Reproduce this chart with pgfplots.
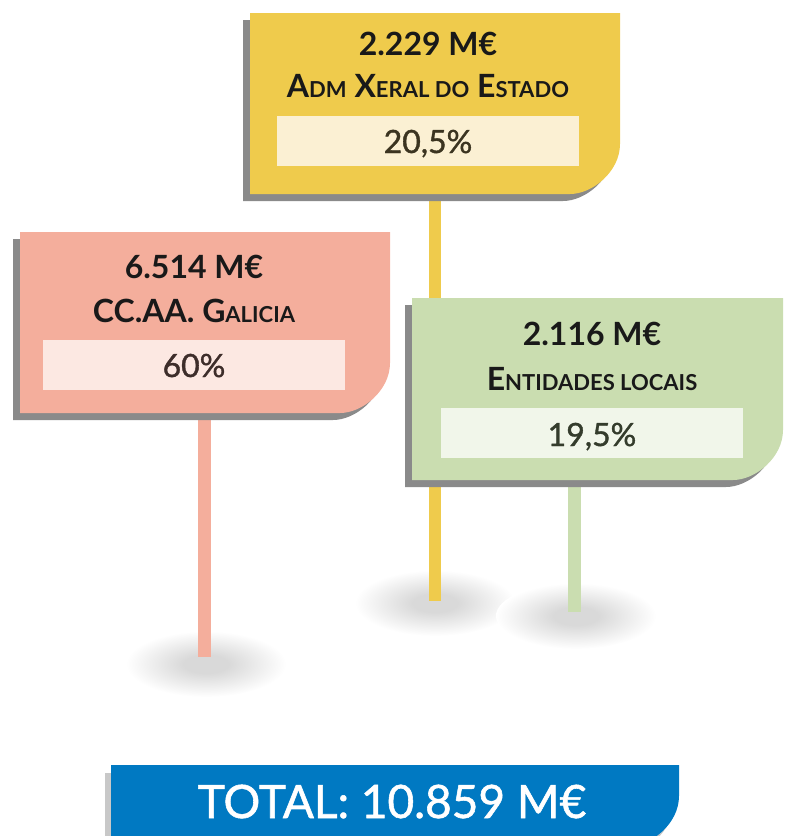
\documentclass[border=0pt]{standalone}
\usepackage{pgfplots}
\pgfplotsset{compat=1.18}
\usepackage{fontspec}
\setmainfont{Lato}
\newfontfamily\medfont{Lato}[FakeBold=1.2]
\definecolor{yel}{HTML}{EFCB4C}
\definecolor{yelL}{HTML}{FBF0D3}
\definecolor{pnk}{HTML}{F4AE9C}
\definecolor{pnkL}{HTML}{FCE8E2}
\definecolor{grn}{HTML}{CADDB0}
\definecolor{grnL}{HTML}{F1F6EA}
\definecolor{blu}{HTML}{0079C2}
\definecolor{shd}{HTML}{8A8A8A}
\definecolor{shdL}{HTML}{C8C8C8}
\definecolor{ell}{HTML}{D9D9D9}
\definecolor{pctY}{HTML}{3B3420}
\definecolor{pctP}{HTML}{3D2D2A}
\definecolor{pctG}{HTML}{343C2C}
\pgfdeclareradialshading{softshadow}{\pgfpoint{0bp}{0bp}}{color(0bp)=(ell); color(7bp)=(ell); color(25bp)=(white); color(50bp)=(white)}
% card path: x1 y1 x2 y2 with rounded bottom-right corner (r=50)
\newcommand\cardpath[8]{(#1,#2) -- (#3,#2) -- (#3,#5) .. controls (#3,#7) and (#8,#4) .. (#6,#4) -- (#1,#4) -- cycle}
\newcommand\sm[1]{{\fontsize{22}{23}\selectfont #1}}
\tikzset{ttl/.style={anchor=base, font=\fontsize{32}{33}\selectfont\bfseries, text=black!90},
         pct/.style={anchor=base, font=\fontsize{32}{33}\selectfont\medfont}}
\begin{document}
\begin{tikzpicture}
\begin{axis}[
  scale only axis, width=787pt, height=836pt,
  xmin=0, xmax=787, ymin=0, ymax=836, y dir=reverse,
  hide axis, clip=false]
% soft shadows under the posts
\shade[shading=softshadow] (axis cs:206,664) ellipse [x radius=80pt, y radius=33pt];
\shade[shading=softshadow] (axis cs:435,603) ellipse [x radius=80pt, y radius=33pt];
\shade[shading=softshadow] (axis cs:576,616) ellipse [x radius=80pt, y radius=33pt];
% posts (values: 6514, 2229, 2116 M EUR)
\addplot[pnk, line width=13pt, line cap=butt] coordinates {(204.5,420) (204.5,657)};
\addplot[yel, line width=12pt, line cap=butt] coordinates {(435,200) (435,601)};
\addplot[grn, line width=13pt, line cap=butt] coordinates {(574,487) (574,612)};
% yellow card
\fill[shd, xshift=-7pt, yshift=-7pt] \cardpath{250}{13}{620}{194}{144}{570}{171.6}{592.4};
\fill[yel] \cardpath{250}{13}{620}{194}{144}{570}{171.6}{592.4};
\fill[yelL] (axis cs:277,116) rectangle (axis cs:579,166);
\node[ttl] at (axis cs:428,55) {2.229 M€};
\node[ttl] at (axis cs:428,97) {A\sm{DM} X\sm{ERAL DO} E\sm{STADO}};
\node[pct, text=pctY] at (axis cs:428,153) {20,5\%};
% pink card
\fill[shd, xshift=-7pt, yshift=-7pt] \cardpath{20}{232}{390}{413}{363}{340}{390.6}{362.4};
\fill[pnk] \cardpath{20}{232}{390}{413}{363}{340}{390.6}{362.4};
\fill[pnkL] (axis cs:43,340) rectangle (axis cs:345,390);
\node[ttl] at (axis cs:194,278) {6.514 M€};
\node[ttl] at (axis cs:194,322) {CC.AA. G\sm{ALICIA}};
\node[pct, text=pctP] at (axis cs:194,377) {60\%};
% green card
\fill[shd, xshift=-7pt, yshift=-7pt] \cardpath{412}{298}{783}{480}{430}{733}{457.6}{755.4};
\fill[grn] \cardpath{412}{298}{783}{480}{430}{733}{457.6}{755.4};
\fill[grnL] (axis cs:441,408) rectangle (axis cs:743,458);
\node[ttl] at (axis cs:592,345) {2.116 M€};
\node[ttl] at (axis cs:592,390) {E\sm{NTIDADES LOCAIS}};
\node[pct, text=pctG] at (axis cs:592,446) {19,5\%};
% total banner
\fill[shdL, xshift=-6pt, yshift=-8pt] \cardpath{111}{765}{679}{846}{796}{629}{823.6}{651.4};
\fill[blu] \cardpath{111}{765}{679}{846}{796}{629}{823.6}{651.4};
\node[anchor=base, font=\fontsize{46}{47}\selectfont\medfont, text=white] at (axis cs:392,818) {TOTAL: 10.859 M€};
\end{axis}
\pgfresetboundingbox
\path (0,0) rectangle (787pt,836pt);
\end{tikzpicture}
\end{document}
